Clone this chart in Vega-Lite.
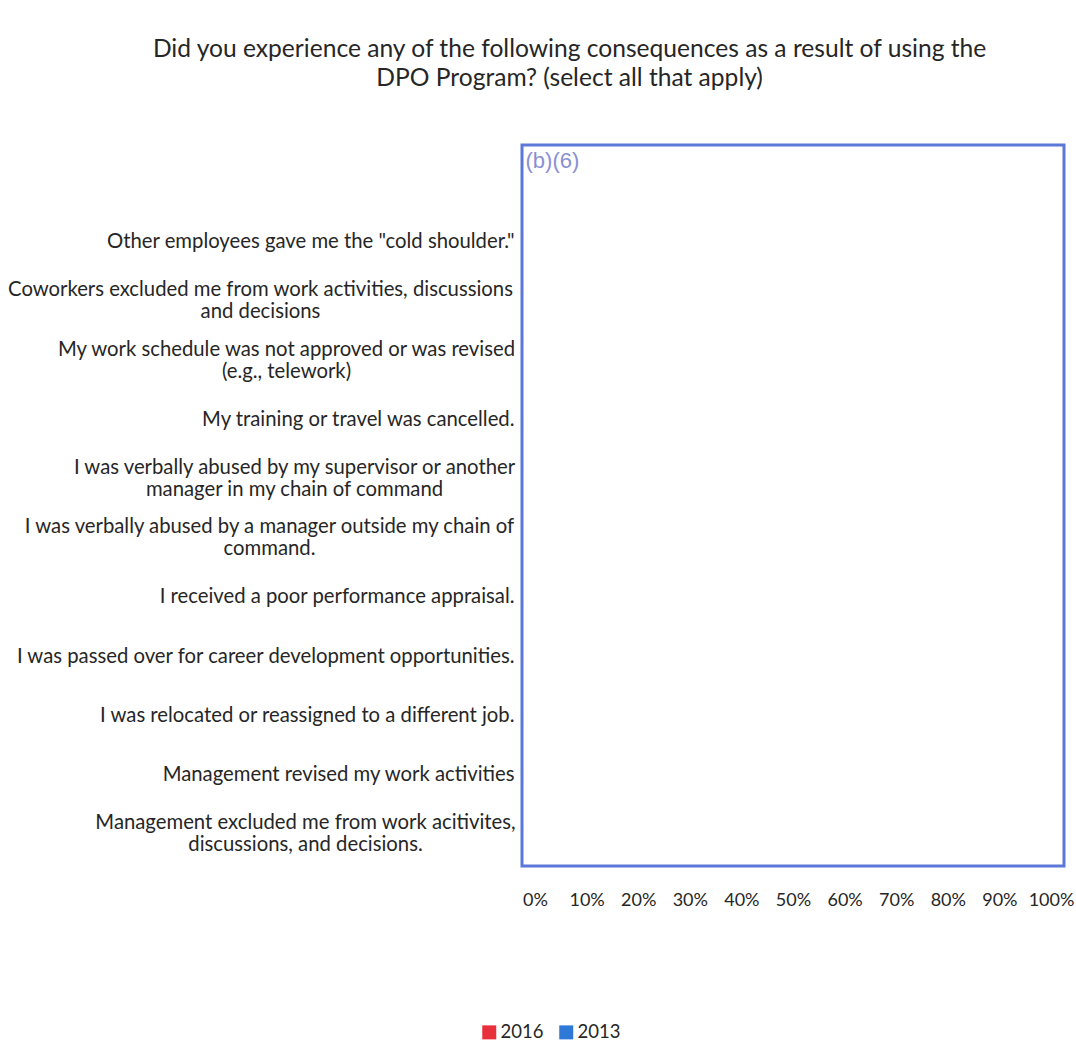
{
  "$schema": "https://vega.github.io/schema/vega-lite/v6.json",
  "width": 542,
  "height": 721,
  "padding": {"left": 7, "top": 37, "right": 5, "bottom": 5},
  "background": "white",
  "title": {
    "text": ["Did you experience any of the following consequences as a result of using the", "DPO Program? (select all that apply)"],
    "font": "Lato",
    "fontSize": 24.6,
    "fontWeight": "normal",
    "color": "#262626",
    "anchor": "middle",
    "frame": "bounds",
    "dx": 29,
    "lineHeight": 29,
    "offset": 53
  },
  "data": {
    "values": [
      {"consequence": "Other employees gave me the \"cold shoulder.\"", "year": "2016", "percent": null},
      {"consequence": "Other employees gave me the \"cold shoulder.\"", "year": "2013", "percent": null},
      {"consequence": "Coworkers excluded me from work activities, discussions\nand decisions", "year": "2016", "percent": null},
      {"consequence": "Coworkers excluded me from work activities, discussions\nand decisions", "year": "2013", "percent": null},
      {"consequence": "My work schedule was not approved or was revised\n(e.g., telework)", "year": "2016", "percent": null},
      {"consequence": "My work schedule was not approved or was revised\n(e.g., telework)", "year": "2013", "percent": null},
      {"consequence": "My training or travel was cancelled.", "year": "2016", "percent": null},
      {"consequence": "My training or travel was cancelled.", "year": "2013", "percent": null},
      {"consequence": "I was verbally abused by my supervisor or another\nmanager in my chain of command", "year": "2016", "percent": null},
      {"consequence": "I was verbally abused by my supervisor or another\nmanager in my chain of command", "year": "2013", "percent": null},
      {"consequence": "I was verbally abused by a manager outside my chain of\ncommand.", "year": "2016", "percent": null},
      {"consequence": "I was verbally abused by a manager outside my chain of\ncommand.", "year": "2013", "percent": null},
      {"consequence": "I received a poor performance appraisal.", "year": "2016", "percent": null},
      {"consequence": "I received a poor performance appraisal.", "year": "2013", "percent": null},
      {"consequence": "I was passed over for career development opportunities.", "year": "2016", "percent": null},
      {"consequence": "I was passed over for career development opportunities.", "year": "2013", "percent": null},
      {"consequence": "I was relocated or reassigned to a different job.", "year": "2016", "percent": null},
      {"consequence": "I was relocated or reassigned to a different job.", "year": "2013", "percent": null},
      {"consequence": "Management revised my work activities", "year": "2016", "percent": null},
      {"consequence": "Management revised my work activities", "year": "2013", "percent": null},
      {"consequence": "Management excluded me from work acitivites,\ndiscussions, and decisions.", "year": "2016", "percent": null},
      {"consequence": "Management excluded me from work acitivites,\ndiscussions, and decisions.", "year": "2013", "percent": null}
    ]
  },
  "mark": {"type": "bar", "invalid": "filter"},
  "encoding": {
    "y": {
      "field": "consequence",
      "type": "nominal",
      "sort": null,
      "scale": {
        "domain": [
          "Other employees gave me the \"cold shoulder.\"",
          "Coworkers excluded me from work activities, discussions\nand decisions",
          "My work schedule was not approved or was revised\n(e.g., telework)",
          "My training or travel was cancelled.",
          "I was verbally abused by my supervisor or another\nmanager in my chain of command",
          "I was verbally abused by a manager outside my chain of\ncommand.",
          "I received a poor performance appraisal.",
          "I was passed over for career development opportunities.",
          "I was relocated or reassigned to a different job.",
          "Management revised my work activities",
          "Management excluded me from work acitivites,\ndiscussions, and decisions."
        ],
        "paddingInner": 0.2,
        "paddingOuter": 0.69,
        "align": 0.9
      },
      "axis": {
        "title": "(b)(6)",
        "titleAngle": 0,
        "titleX": 3,
        "titleY": 5,
        "titleAlign": "left",
        "titleBaseline": "top",
        "titleColor": "#8a8fd4",
        "titleFont": "Liberation Sans",
        "titleFontSize": 22,
        "titleFontWeight": "normal",
        "labelExpr": "split(datum.label, '\\n')",
        "labelFont": "Lato",
        "labelFontSize": 20.3,
        "labelLineHeight": 22,
        "labelColor": "#262626",
        "labelLimit": 0,
        "labelAlign": {
          "condition": {
            "test": "substring(datum.value, 0, 9) == 'Coworkers' || substring(datum.value, 0, 16) == 'My work schedule' || substring(datum.value, 0, 21) == 'I was verbally abused' || substring(datum.value, 0, 19) == 'Management excluded'",
            "value": "center"
          },
          "value": "right"
        },
        "labelOffset": {
          "condition": {
            "test": "substring(datum.value, 0, 9) == 'Coworkers' || substring(datum.value, 0, 16) == 'My work schedule' || substring(datum.value, 0, 21) == 'I was verbally abused' || substring(datum.value, 0, 19) == 'Management excluded'",
            "value": -11
          },
          "value": 0
        },
        "labelPadding": {
          "condition": [
            {"test": "substring(datum.value, 0, 9) == 'Coworkers'", "value": 262},
            {"test": "substring(datum.value, 0, 16) == 'My work schedule'", "value": 236},
            {"test": "substring(datum.value, 0, 27) == 'I was verbally abused by my'", "value": 228},
            {"test": "substring(datum.value, 0, 26) == 'I was verbally abused by a'", "value": 253},
            {"test": "substring(datum.value, 0, 19) == 'Management excluded'", "value": 217}
          ],
          "value": 8
        },
        "ticks": false,
        "domain": false
      }
    },
    "yOffset": {"field": "year", "sort": ["2016", "2013"]},
    "x": {
      "field": "percent",
      "type": "quantitative",
      "scale": {"domain": [0, 1], "padding": 13, "nice": false, "zero": false},
      "axis": {
        "values": [0, 0.1, 0.2, 0.3, 0.4, 0.5, 0.6, 0.7, 0.8, 0.9, 1],
        "format": ".0%",
        "title": null,
        "grid": false,
        "domain": false,
        "ticks": false,
        "labelPadding": 25,
        "labelFont": "Lato",
        "labelFontSize": 18,
        "labelColor": "#262626"
      }
    },
    "color": {
      "field": "year",
      "type": "nominal",
      "scale": {"domain": ["2016", "2013"], "range": ["#e8303a", "#2e78d8"]},
      "legend": {
        "title": null,
        "orient": "none",
        "direction": "horizontal",
        "legendX": -42,
        "legendY": 878,
        "symbolType": "square",
        "symbolSize": 196,
        "symbolStrokeWidth": 0,
        "labelFont": "Lato",
        "labelFontSize": 18.5,
        "labelColor": "#262626",
        "labelOffset": 2,
        "columnPadding": 13
      }
    }
  },
  "config": {
    "view": {"stroke": "#5b78d8", "strokeWidth": 3}
  }
}
